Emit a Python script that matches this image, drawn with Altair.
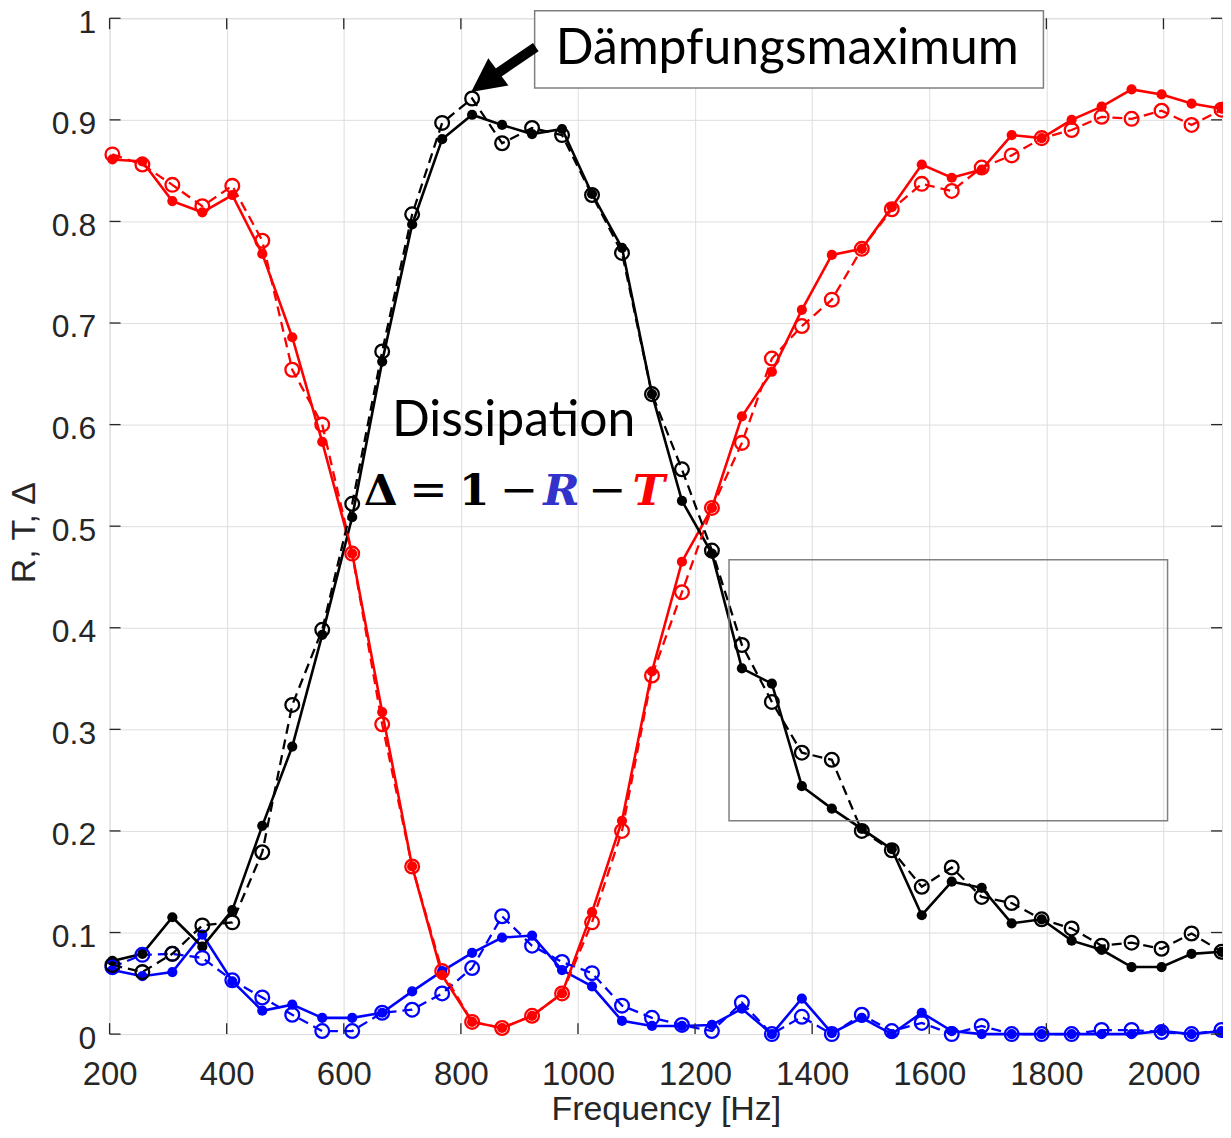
import altair as alt
import pandas as pd

# ---------------- data ----------------
freq = [204.8, 256.0, 307.2, 358.4, 409.6, 460.8, 512.0, 563.2, 614.4, 665.6,
        716.8, 768.0, 819.2, 870.4, 921.6, 972.8, 1024.0, 1075.2, 1126.4, 1177.6,
        1228.8, 1280.0, 1331.2, 1382.4, 1433.6, 1484.8, 1536.0, 1587.2, 1638.4, 1689.6,
        1740.8, 1792.0, 1843.2, 1894.4, 1945.6, 1996.8, 2048.0, 2099.2]

D_solid = [0.072, 0.079, 0.115, 0.086, 0.122, 0.205, 0.283, 0.393, 0.509, 0.662,
           0.797, 0.881, 0.905, 0.895, 0.886, 0.891, 0.827, 0.774, 0.630, 0.525,
           0.473, 0.360, 0.345, 0.244, 0.222, 0.202, 0.182, 0.117, 0.150, 0.144,
           0.109, 0.113, 0.092, 0.083, 0.066, 0.066, 0.079, 0.081]
D_dashed = [0.068, 0.061, 0.079, 0.107, 0.110, 0.179, 0.324, 0.398, 0.522, 0.672,
            0.807, 0.897, 0.921, 0.877, 0.892, 0.885, 0.826, 0.769, 0.630, 0.556,
            0.476, 0.383, 0.327, 0.277, 0.270, 0.200, 0.181, 0.145, 0.164, 0.135,
            0.129, 0.113, 0.104, 0.087, 0.090, 0.084, 0.099, 0.081]

T_solid = [0.861, 0.859, 0.820, 0.809, 0.826, 0.768, 0.686, 0.583, 0.473, 0.317,
           0.165, 0.058, 0.012, 0.006, 0.018, 0.040, 0.120, 0.210, 0.357, 0.465,
           0.518, 0.608, 0.652, 0.713, 0.767, 0.773, 0.814, 0.856, 0.843, 0.851,
           0.885, 0.882, 0.900, 0.913, 0.930, 0.925, 0.916, 0.911]
T_dashed = [0.866, 0.856, 0.836, 0.815, 0.835, 0.781, 0.654, 0.600, 0.473, 0.305,
            0.165, 0.062, 0.012, 0.006, 0.018, 0.040, 0.110, 0.200, 0.353, 0.435,
            0.518, 0.582, 0.665, 0.697, 0.723, 0.773, 0.812, 0.837, 0.830, 0.853,
            0.865, 0.882, 0.890, 0.903, 0.901, 0.909, 0.895, 0.910]

R_solid = [0.063, 0.057, 0.061, 0.098, 0.052, 0.023, 0.029, 0.016, 0.016, 0.021,
           0.042, 0.062, 0.080, 0.095, 0.097, 0.063, 0.047, 0.013, 0.008, 0.008,
           0.009, 0.025, 0.000, 0.035, 0.001, 0.016, 0.000, 0.021, 0.003, 0.000,
           0.000, 0.000, 0.000, 0.000, 0.000, 0.003, 0.000, 0.003]
R_dashed = [0.066, 0.078, 0.079, 0.075, 0.053, 0.036, 0.019, 0.003, 0.003, 0.021,
            0.024, 0.040, 0.065, 0.116, 0.087, 0.071, 0.060, 0.028, 0.016, 0.009,
            0.003, 0.031, 0.000, 0.017, 0.000, 0.019, 0.003, 0.011, 0.000, 0.008,
            0.000, 0.000, 0.000, 0.004, 0.004, 0.002, 0.000, 0.004]

x_ticks = [200, 400, 600, 800, 1000, 1200, 1400, 1600, 1800, 2000]
y_ticks = [0, 0.1, 0.2, 0.3, 0.4, 0.5, 0.6, 0.7, 0.8, 0.9, 1.0]

series_names = ["R", "T", "Δ"]
series_colors = ["#0000ff", "#ff0000", "#000000"]

# annotations (data coordinates)
box_f, box_f2, box_v, box_v2 = 926.0, 1795.0, 0.9314, 1.0074
label_text = ["Dämpfungsmaximum", "Dissipation"]
label_f = [962.0, 890.0]
label_v = [0.955, 0.589]
label_align = ["left", "center"]

glyphs = ["Δ", "=", "1", "−", "R", "−", "T"]
glyph_f = [663.0, 744.5, 822.7, 899.0, 972.0, 1050.0, 1120.8]
glyph_v = 0.5206
glyph_color = ["#000000", "#000000", "#000000", "#000000", "#3333cc", "#000000", "#ff0000"]
glyph_kind = ["bold", "op", "bold", "op", "italic", "op", "italic"]

arrow_f = [928.0, 840.8]
arrow_v = [0.9716, 0.9374]
arrow_angle = 233.5

zoom_box = (1258.0, 2007.0, 0.21, 0.467)

# ---------------- tables ----------------
rows = []
for name, solid, dashed in [("R", R_solid, R_dashed), ("T", T_solid, T_dashed), ("Δ", D_solid, D_dashed)]:
    for f, v in zip(freq, solid):
        rows.append({"f": f, "v": v, "s": name, "k": "solid"})
    for f, v in zip(freq, dashed):
        rows.append({"f": f, "v": v, "s": name, "k": "dashed"})
df = pd.DataFrame(rows)

W, H = 1117, 1020
AX = "#262626"
xs = alt.Scale(domain=[200, 2100], nice=False, zero=False)
ys = alt.Scale(domain=[0, 1], nice=False, zero=False)
cs = alt.Scale(domain=series_names, range=series_colors)

x_axis = alt.Axis(values=x_ticks, format="d", grid=True, gridColor="#dedede", gridWidth=1,
                  domain=False, ticks=False, tickSize=0, labelFlush=False, labelOverlap=False,
                  labelFont="Liberation Sans", labelFontSize=33, labelColor=AX, labelPadding=25,
                  title="Frequency [Hz]", titleFont="Liberation Sans", titleFontSize=34,
                  titleFontWeight="normal", titleColor=AX, titleX=W / 2, titleY=86,
                  titleAlign="center", titleBaseline="alphabetic")
y_axis = alt.Axis(values=y_ticks, format=".1~f", grid=True, gridColor="#dedede", gridWidth=1,
                  domain=False, ticks=False, tickSize=0, labelFlush=False, labelOverlap=False,
                  labelFont="Liberation Sans", labelFontSize=32, labelColor=AX, labelPadding=14,
                  labelOffset=4,
                  title="R, T, Δ", titleFont="Liberation Sans", titleFontSize=34,
                  titleFontWeight="normal", titleColor=AX, titleX=-85, titleY=516,
                  titleAngle=270, titleAlign="center", titleBaseline="middle")

X = alt.X("f:Q", scale=xs, axis=x_axis)
Y = alt.Y("v:Q", scale=ys, axis=y_axis)
C = alt.Color("s:N", scale=cs, legend=None)

base = alt.Chart(df)
solid_line = base.transform_filter(alt.datum.k == "solid").mark_line(strokeWidth=2.6).encode(
    x=X, y=Y, color=C, detail="s:N")
dashed_line = base.transform_filter(alt.datum.k == "dashed").mark_line(
    strokeWidth=2.3, strokeDash=[10, 6]).encode(x=X, y=Y, color=C, detail="s:N")
solid_pts = base.transform_filter(alt.datum.k == "solid").mark_point(
    filled=True, size=105, opacity=1).encode(x=X, y=Y, color=C)
open_pts = base.transform_filter(alt.datum.k == "dashed").mark_point(
    filled=False, size=190, strokeWidth=2.3, opacity=1).encode(x=X, y=Y, color=C)

# inward ticks (MATLAB style box)
xt = pd.DataFrame({"f": x_ticks})
yt = pd.DataFrame({"v": y_ticks})
tick_len = 11
t_bottom = alt.Chart(xt).mark_rule(color=AX, strokeWidth=1.3).encode(
    x=X, y=alt.value(H), y2=alt.value(H - tick_len))
t_top = alt.Chart(xt).mark_rule(color=AX, strokeWidth=1.3).encode(
    x=X, y=alt.value(0), y2=alt.value(tick_len))
t_left = alt.Chart(yt).mark_rule(color=AX, strokeWidth=1.3).encode(
    y=Y, x=alt.value(0), x2=alt.value(tick_len))
t_right = alt.Chart(yt).mark_rule(color=AX, strokeWidth=1.3).encode(
    y=Y, x=alt.value(W), x2=alt.value(W - tick_len))

# grey zoom rectangle
zb = pd.DataFrame({"f": [zoom_box[0]], "f2": [zoom_box[1]], "v": [zoom_box[2]], "v2": [zoom_box[3]]})
zoom_rect = alt.Chart(zb).mark_rect(fill="white", fillOpacity=0, stroke="#808080", strokeWidth=1.5).encode(
    x=X, x2="f2:Q", y=Y, y2="v2:Q")

# annotation box
ab = pd.DataFrame({"f": [box_f], "f2": [box_f2], "v": [box_v], "v2": [box_v2]})
ann_box = alt.Chart(ab).mark_rect(fill="white", stroke="#7f7f7f", strokeWidth=1.5).encode(
    x=X, x2="f2:Q", y=Y, y2="v2:Q")

# arrow
arr = pd.DataFrame({"f": arrow_f, "v": arrow_v})
arrow_shaft = alt.Chart(arr).mark_line(color="black", strokeWidth=10, strokeCap="butt").encode(x=X, y=Y)
arrow_head = alt.Chart(arr.iloc[[1]]).mark_point(
    shape="M-1,1L1,1L0,-1Z", filled=True, size=1156, angle=arrow_angle, color="black", opacity=1
).encode(x=X, y=Y)

# text labels
lt = pd.DataFrame({"f": label_f, "v": label_v, "t": label_text, "a": label_align})
txt_left = alt.Chart(lt[lt["a"] == "left"]).mark_text(
    font="Lato", fontSize=50, align="left", baseline="alphabetic", color="black").encode(x=X, y=Y, text="t:N")
txt_center = alt.Chart(lt[lt["a"] == "center"]).mark_text(
    font="Lato", fontSize=50, align="center", baseline="alphabetic", color="black").encode(x=X, y=Y, text="t:N")

gt = pd.DataFrame({"f": glyph_f, "v": [glyph_v] * len(glyphs), "t": glyphs,
                   "c": glyph_color, "k": glyph_kind})
g_bold = alt.Chart(gt[gt["k"] == "bold"]).mark_text(
    font="DejaVu Serif", fontSize=44, fontWeight="bold", align="center", baseline="alphabetic").encode(
    x=X, y=Y, text="t:N", color=alt.Color("c:N", scale=None))
g_op = alt.Chart(gt[gt["k"] == "op"]).mark_text(
    font="DejaVu Serif", fontSize=46, fontWeight="normal", align="center", baseline="alphabetic").encode(
    x=X, y=Y, text="t:N", color=alt.Color("c:N", scale=None))
g_italic = alt.Chart(gt[gt["k"] == "italic"]).mark_text(
    font="DejaVu Serif", fontSize=44, fontWeight="bold", fontStyle="italic", align="center",
    baseline="alphabetic").encode(x=X, y=Y, text="t:N", color=alt.Color("c:N", scale=None))

chart = alt.layer(
    solid_line, dashed_line, solid_pts, open_pts,
    t_bottom, t_top, t_left, t_right,
    zoom_rect, ann_box, arrow_shaft, arrow_head,
    txt_left, txt_center, g_bold, g_op, g_italic,
).properties(
    width=W, height=H,
    autosize=alt.AutoSizeParams(type="none"),
    padding={"left": 102, "top": 8, "right": 1, "bottom": 94},
).configure_view(
    stroke=AX, strokeWidth=1.3
).configure(background="white")

chart.save("out.html", embed_options={"renderer": "svg", "actions": False})
